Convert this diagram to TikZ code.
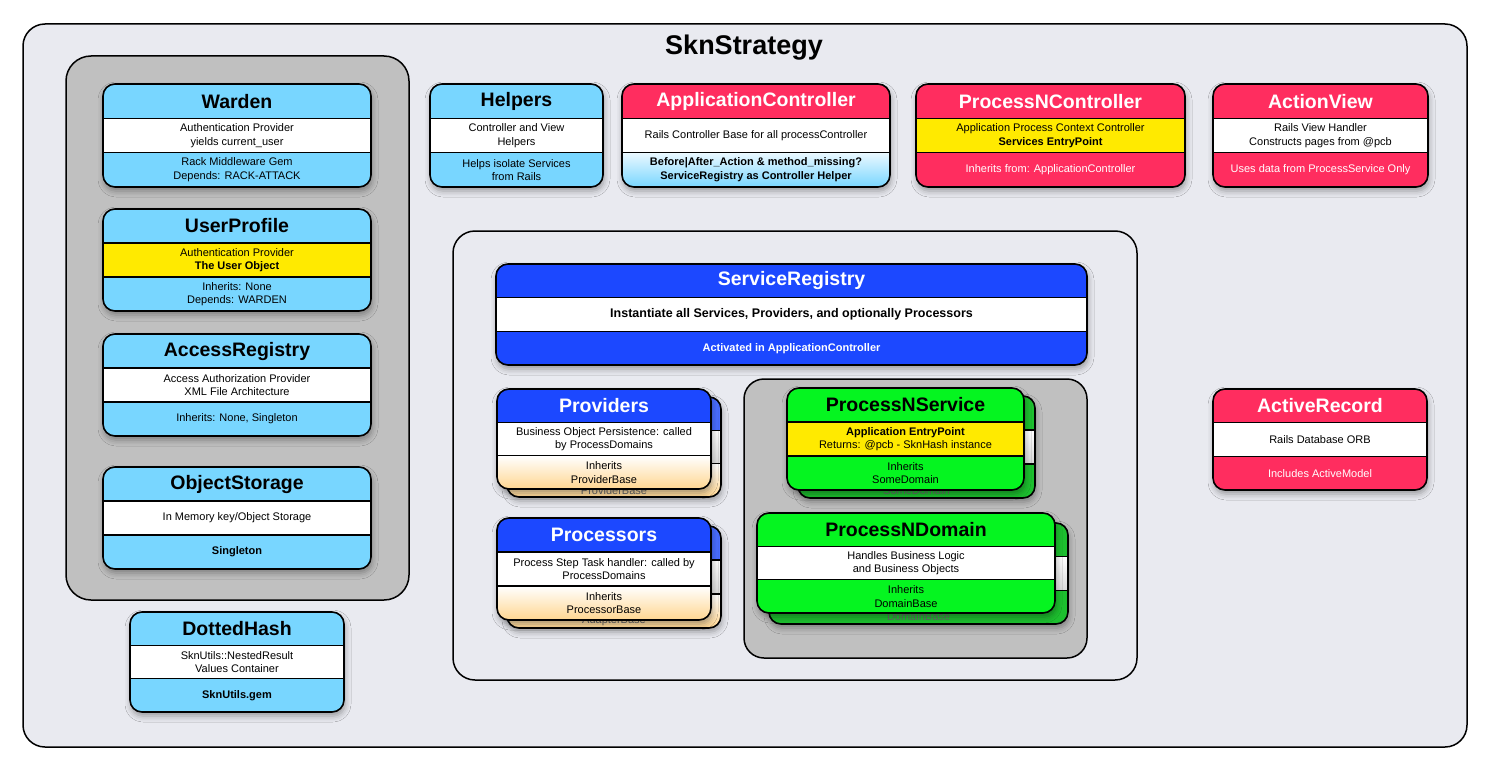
\documentclass[tikz,border=0pt]{standalone}
\usepackage{fontspec}
\setmainfont{Liberation Sans}
\usetikzlibrary{shadows.blur}

\definecolor{skyblue}{HTML}{78D6FF}
\definecolor{railsred}{HTML}{FF2D5F}
\definecolor{hiyellow}{HTML}{FFEA00}
\definecolor{regblue}{HTML}{1C48FF}
\definecolor{procgreen}{HTML}{05F520}
\definecolor{providertan}{HTML}{FFD690}
\definecolor{panelgrey}{HTML}{C0C0C0}
\definecolor{canvasgrey}{HTML}{E9EAF0}

\newcommand{\boxtitlefont}{\fontsize{19.5}{22}\selectfont\bfseries}
\newcommand{\boxbodyfont}{\fontsize{11}{13.5}\selectfont}

\tikzset{
  boxline/.style={line width=1.6pt, draw=black},
  boxshadow/.style={blur shadow={shadow xshift=1pt, shadow yshift=-4pt, shadow blur radius=6pt, shadow opacity=35}},
  boxhead/.style={fill=skyblue},
  boxmid/.style={fill=white},
  boxbot/.style={fill=skyblue},
  headtext/.style={font=\boxtitlefont, text=black},
  midtext/.style={font=\boxbodyfont, text=black, align=center},
  bottext/.style={font=\boxbodyfont, text=black, align=center},
  redbox/.style={boxhead/.style={fill=railsred}, boxbot/.style={fill=railsred},
    headtext/.append style={text=white}, bottext/.append style={text=white}},
  bluebox/.style={boxhead/.style={fill=regblue}, boxbot/.style={top color=white, bottom color=providertan},
    headtext/.append style={text=white}},
  greenbox/.style={boxhead/.style={fill=procgreen}, boxbot/.style={fill=procgreen}},
  backbox/.style={boxmid/.style={top color=white, bottom color=black!15},
    midtext/.append style={text=black!60}, bottext/.append style={text=black!60, yshift=-3pt}},
  panel/.style={line width=1.5pt, draw=black, rounded corners=22},
}

% one class box: [style]{name}{left}{top}{right}{bottom}{title}{middle}{bottom text}
\newcommand{\umlbox}[9][]{%
  \begin{scope}[#1]
    \pgfmathsetmacro{\ya}{#4+(#6-#4)/3}
    \pgfmathsetmacro{\yb}{#4+2*(#6-#4)/3}
    \path[boxhead, boxshadow, rounded corners=12] (#3,#4) rectangle (#5,#6);
    \begin{scope}
      \clip[rounded corners=12] (#3,#4) rectangle (#5,#6);
      \path[boxmid] (#3,\ya) rectangle (#5,\yb);
      \path[boxbot] (#3,\yb) rectangle (#5,#6);
    \end{scope}
    \draw[boxline] (#3,\ya) -- (#5,\ya) (#3,\yb) -- (#5,\yb);
    \draw[boxline, rounded corners=12] (#3,#4) rectangle (#5,#6);
    \node[headtext] (#2) at ({(#3+#5)/2}, {(#4+\ya)/2}) {#7};
    \node[midtext] (#2-mid) at ({(#3+#5)/2}, {(\ya+\yb)/2}) {#8};
    \node[bottext] (#2-bot) at ({(#3+#5)/2}, {(\yb+#6)/2}) {#9};
  \end{scope}}

\begin{document}
\begin{tikzpicture}[x=1pt, y=-1pt]
  % ---------- frame ----------
  \fill[white] (0,0) rectangle (1488,768);
  \useasboundingbox (0,0) rectangle (1488,768);
  \path[panel, fill=canvasgrey] (23,24) rectangle (1467,747);
  \node[font=\fontsize{27}{30}\selectfont\bfseries] (strategy) at (744,48) {SknStrategy};

  % ---------- left column ----------
  \path[panel, fill=panelgrey, rounded corners=25] (66,56) rectangle (409,600);
  \umlbox{warden}{103}{84}{371}{187}{Warden}
    {Authentication Provider\\yields current\_user}{Rack Middleware Gem\\Depends: RACK-ATTACK}
  \umlbox[boxmid/.style={fill=hiyellow}]{userprofile}{103}{209}{371}{311}{UserProfile}
    {Authentication Provider\\\textbf{The User Object}}{Inherits: None\\Depends: WARDEN}
  \umlbox{accessregistry}{103}{334}{371}{436}{AccessRegistry}
    {Access Authorization Provider\\XML File Architecture}{Inherits: None, Singleton}
  \umlbox{objectstorage}{103}{467}{371}{569}{ObjectStorage}
    {In Memory key/Object Storage}{\textbf{Singleton}}
  \umlbox{dottedhash}{130}{612}{344}{712}{DottedHash}
    {SknUtils::NestedResult\\Values Container}{\textbf{SknUtils.gem}}

  % ---------- top row ----------
  \umlbox{helpers}{430}{84}{603}{187}{Helpers}
    {Controller and View\\Helpers}{Helps isolate Services\\from Rails}
  \umlbox[redbox, boxbot/.style={top color=white!85!skyblue, bottom color=skyblue}, bottext/.append style={text=black}]
    {appcontroller}{622}{84}{890}{187}{ApplicationController}
    {Rails Controller Base for all processController}
    {\textbf{Before|After\_Action \& method\_missing?}\\\textbf{ServiceRegistry as Controller Helper}}
  \umlbox[redbox, boxmid/.style={fill=hiyellow}]{processcontroller}{916}{84}{1185}{187}{ProcessNController}
    {Application Process Context Controller\\\textbf{Services EntryPoint}}{Inherits from: ApplicationController}
  \umlbox[redbox]{actionview}{1213}{84}{1428}{187}{ActionView}
    {Rails View Handler\\Constructs pages from @pcb}{Uses data from ProcessService Only}

  % ---------- service registry ----------
  \path[panel, fill=canvasgrey] (453,231) rectangle (1137,680);
  \umlbox[boxhead/.style={fill=regblue}, boxbot/.style={fill=regblue}, headtext/.append style={text=white},
    midtext/.append style={font=\fontsize{12.5}{15}\selectfont\bfseries}, bottext/.append style={text=white}]
    {serviceregistry}{496}{264}{1087}{365}{ServiceRegistry}
    {Instantiate all Services, Providers, and optionally Processors}{\textbf{Activated in ApplicationController}}

  % providers and processors, stacked
  \umlbox[bluebox, backbox, boxhead/.style={fill=regblue!80!white}]{providersback}{507}{397}{721}{497}{}{}
    {\phantom{Inherits}\\ProviderBase}
  \umlbox[bluebox]{providers}{497}{389}{711}{489}{Providers}
    {Business Object Persistence: called\\by ProcessDomains}{Inherits\\ProviderBase}
  \umlbox[bluebox, backbox, boxhead/.style={fill=regblue!80!white}]{processorsback}{507}{526}{721}{628}{}{}
    {\phantom{Inherits}\\AdapterBase}
  \umlbox[bluebox]{processors}{497}{518}{711}{620}{Processors}
    {Process Step Task handler: called by\\ProcessDomains}{Inherits\\ProcessorBase}

  % ---------- process service and domain ----------
  \path[panel, fill=panelgrey, rounded corners=20] (744,379) rectangle (1087,658);
  \umlbox[greenbox, backbox, boxhead/.style={fill=procgreen!75!black!90!white}, boxbot/.style={fill=procgreen!75!black!90!white}]
    {processserviceback}{798}{396}{1035}{498}{}{}{\phantom{Inherits}\\SomeDomain}
  \umlbox[greenbox, boxmid/.style={fill=hiyellow}]{processservice}{787}{388}{1024}{490}{ProcessNService}
    {\textbf{Application EntryPoint}\\Returns: @pcb - SknHash instance}{Inherits\\SomeDomain}
  \umlbox[greenbox, backbox, boxhead/.style={fill=procgreen!75!black!90!white}, boxbot/.style={fill=procgreen!75!black!90!white}]
    {processdomainback}{769}{523}{1068}{624}{}{}{\phantom{Inherits}\\DomainBase}
  \umlbox[greenbox]{processdomain}{757}{513}{1055}{613}{ProcessNDomain}
    {Handles Business Logic\\and Business Objects}{Inherits\\DomainBase}

  % ---------- database ----------
  \umlbox[redbox]{activerecord}{1213}{389}{1427}{490}{ActiveRecord}
    {Rails Database ORB}{Includes ActiveModel}
\end{tikzpicture}
\end{document}
